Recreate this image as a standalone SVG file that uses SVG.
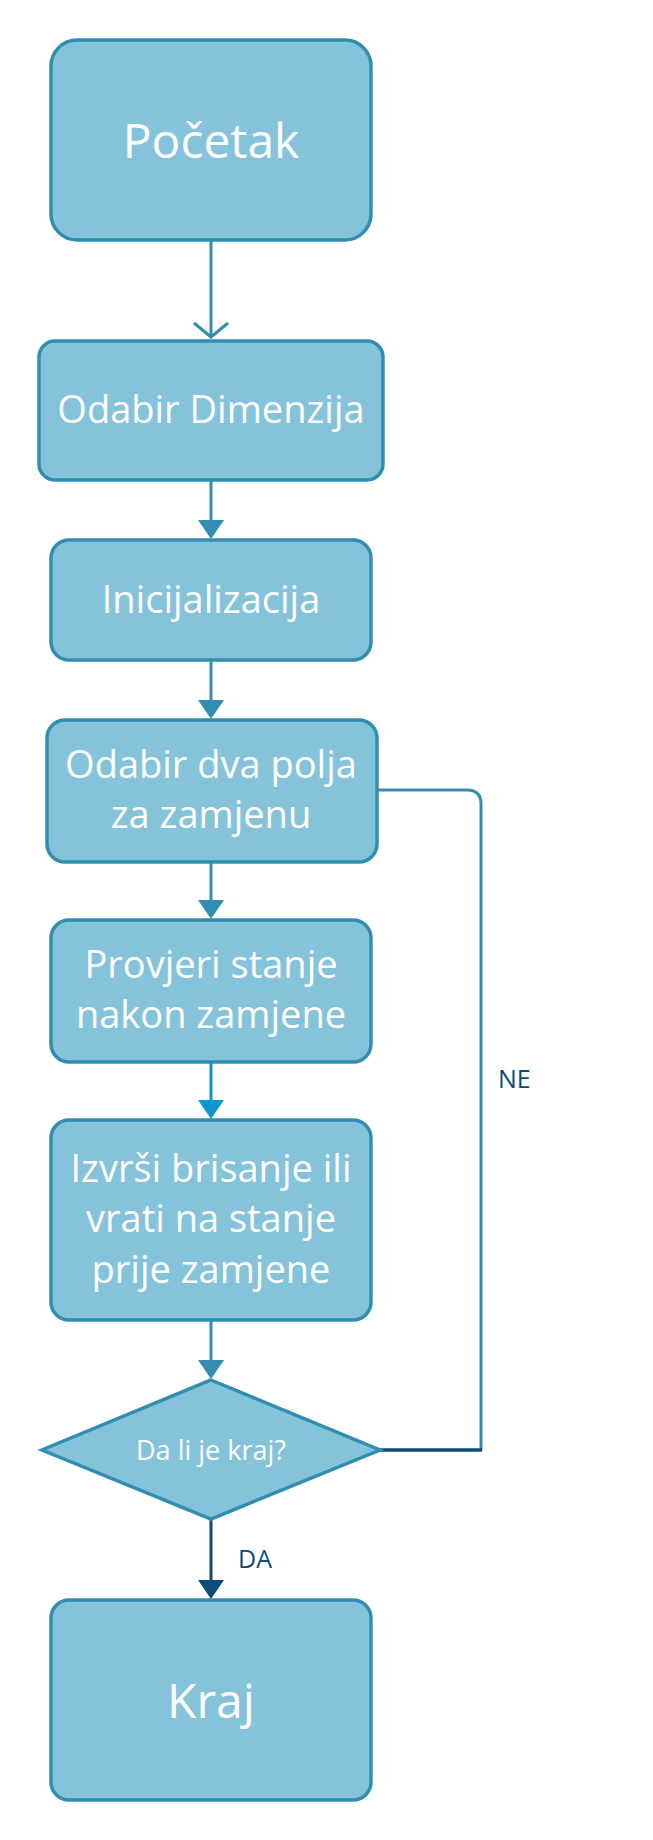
<svg xmlns="http://www.w3.org/2000/svg" width="653" height="1840" viewBox="0 0 653 1840">
<defs>
<style>
.box{fill:#85c3db;stroke:#318eb0;stroke-width:3.5}
.t{fill:#ffffff;font-family:"Open Sans","Noto Sans",sans-serif;text-anchor:middle}
.c{fill:none;stroke:#318eb0;stroke-width:3}
.lbl{fill:#0b4d74;font-family:"Open Sans","Noto Sans",sans-serif;font-size:25px}
</style>
</defs>
<rect width="653" height="1840" fill="#ffffff"/>
<g id="connectors">
<line class="c" x1="211" y1="240" x2="211" y2="338"/>
<path d="M194,323 L211,337 L228,323" fill="none" stroke="#318eb0" stroke-width="3"/>
<line class="c" x1="211" y1="481" x2="211" y2="522"/>
<path d="M198,520 L224,520 L211,539 Z" fill="#318eb0"/>
<line class="c" x1="211" y1="661" x2="211" y2="702"/>
<path d="M198,700 L224,700 L211,719 Z" fill="#318eb0"/>
<line class="c" x1="211" y1="863" x2="211" y2="902"/>
<path d="M198,900 L224,900 L211,919 Z" fill="#318eb0"/>
<line x1="211" y1="1063" x2="211" y2="1102" stroke="#0a96d0" stroke-width="3"/>
<path d="M198,1100 L224,1100 L211,1119 Z" fill="#0a96d0"/>
<line class="c" x1="211" y1="1321" x2="211" y2="1362"/>
<path d="M198,1360 L224,1360 L211,1379 Z" fill="#318eb0"/>
<line x1="211" y1="1520" x2="211" y2="1582" stroke="#0b4d74" stroke-width="3"/>
<path d="M198,1580 L224,1580 L211,1599 Z" fill="#0b4d74"/>
<path d="M481,1450 L481,804 Q481,790 467,790 L378,790" class="c"/>
<line x1="380" y1="1450" x2="482" y2="1450" stroke="#0b4d74" stroke-width="3.5"/>
<text class="lbl" x="498" y="1088">NE</text>
<text class="lbl" x="238" y="1568">DA</text>
</g>
<g id="pocetak">
<rect class="box" x="51" y="40" width="320" height="200" rx="26"/>
<text class="t" x="211" y="158" font-size="48">Početak</text>
</g>
<g id="odabir-dimenzija">
<rect class="box" x="39" y="341" width="344" height="139" rx="16"/>
<text class="t" x="211" y="423" font-size="38">Odabir Dimenzija</text>
</g>
<g id="inicijalizacija">
<rect class="box" x="51" y="540" width="320" height="120" rx="18"/>
<text class="t" x="211" y="613" font-size="38">Inicijalizacija</text>
</g>
<g id="odabir-polja">
<rect class="box" x="47" y="720" width="330" height="142" rx="18"/>
<text class="t" x="211" y="778" font-size="38">Odabir dva polja</text>
<text class="t" x="211" y="828" font-size="38">za zamjenu</text>
</g>
<g id="provjeri">
<rect class="box" x="51" y="920" width="320" height="142" rx="18"/>
<text class="t" x="211" y="978" font-size="38">Provjeri stanje</text>
<text class="t" x="211" y="1028" font-size="38">nakon zamjene</text>
</g>
<g id="izvrsi">
<rect class="box" x="51" y="1120" width="320" height="200" rx="18"/>
<text class="t" x="211" y="1182" font-size="38">Izvrši brisanje ili</text>
<text class="t" x="211" y="1232" font-size="38">vrati na stanje</text>
<text class="t" x="211" y="1283" font-size="38">prije zamjene</text>
</g>
<g id="kraj-odluka">
<polygon class="box" points="211,1380 380,1450 211,1519 42,1450"/>
<text class="t" x="211" y="1460" font-size="27">Da li je kraj?</text>
</g>
<g id="kraj">
<rect class="box" x="51" y="1600" width="320" height="200" rx="18"/>
<text class="t" x="211" y="1718" font-size="48">Kraj</text>
</g>
</svg>
